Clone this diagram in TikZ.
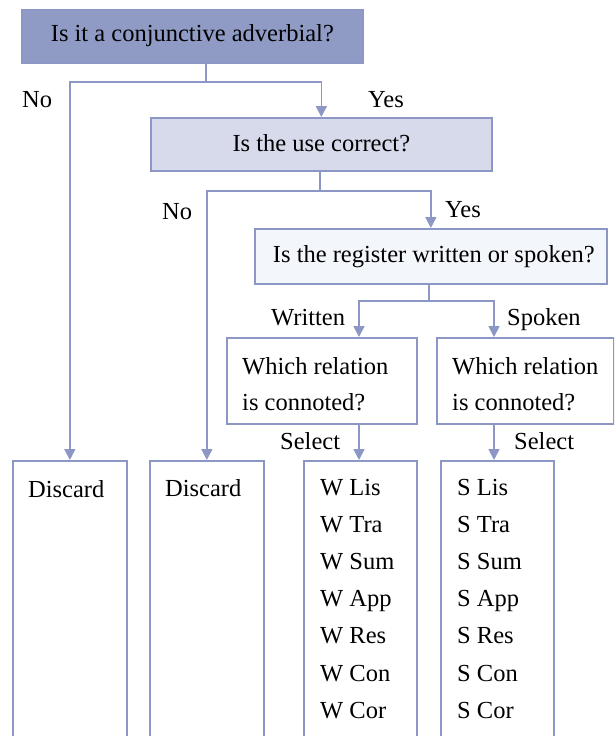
\documentclass[tikz,border=0pt]{standalone}
\usepackage{fontspec}
\setmainfont{Liberation Serif}
\usetikzlibrary{arrows.meta}
\definecolor{lc}{RGB}{140,151,197}
\definecolor{f1}{RGB}{143,155,196}
\definecolor{f2}{RGB}{214,218,235}
\definecolor{f3}{RGB}{243,246,251}
\tikzset{
  box/.style={draw=lc, line width=1.7pt, anchor=north west, inner sep=0pt},
  conn/.style={draw=lc, line width=1.7pt},
  arr/.style={conn, -{Triangle[width=11pt,length=11pt]}},
  txt/.style={font=\fontsize{24.5}{29}\selectfont, inner sep=0pt},
  lbl/.style={txt, anchor=base west},
}
\begin{document}
\begin{tikzpicture}[x=1pt,y=-1pt]
\useasboundingbox[fill=white] (0,0) rectangle (614,736);
\clip (0,0) rectangle (614,736);
% question boxes
\node[box, fill=f1, minimum width=341pt, minimum height=53pt] (q1) at (21,9) {};
\node[txt] (t1) at ([yshift=1pt]q1.center) {Is it a conjunctive adverbial?};
\node[box, fill=f2, minimum width=341pt, minimum height=53pt] (q2) at (150,117) {};
\node[txt] (t2) at ([yshift=1pt]q2.center) {Is the use correct?};
\node[box, fill=f3, minimum width=352pt, minimum height=55pt] (q3) at (254,228) {};
\node[txt] (t3) at ([xshift=3pt]q3.center) {Is the register written or spoken?};
\node[box, fill=white, minimum width=190pt, minimum height=86pt] (q4) at (226,337) {};
\node[lbl] (t4a) at (242,374) {Which relation};
\node[lbl] (t4b) at (242,410) {is connoted?};
\node[box, fill=white, minimum width=177pt, minimum height=86pt] (q5) at (436,337) {};
\node[lbl] (t5a) at (452,374) {Which relation};
\node[lbl] (t5b) at (452,410) {is connoted?};
% bottom boxes (open at the bottom)
\node[box, minimum width=114pt, minimum height=300pt] (d1) at (12,460) {};
\node[box, minimum width=114pt, minimum height=300pt] (d2) at (149,460) {};
\node[box, minimum width=113pt, minimum height=300pt] (wb) at (303,460) {};
\node[box, minimum width=113pt, minimum height=300pt] (sb) at (440,460) {};
\node[lbl] (td1) at (28,497) {Discard};
\node[lbl] (td2) at (165,496) {Discard};
\foreach \n [count=\i from 0] in {Lis,Tra,Sum,App,Res,Con,Cor}{
  \node[lbl] (w\i) at (320,{495+37.2*\i}) {W \n};
  \node[lbl] (s\i) at (457,{495+37.2*\i}) {S \n};
}
% junction coordinates
\coordinate (j1) at (206,82);
\coordinate (j2) at (320,191);
\coordinate (j3) at (429,301);
\coordinate (xw) at (359,0);
\coordinate (xs) at (494,0);
% connectors
\draw[conn] (j1 |- q1.south) -- (j1);
\draw[arr] (j1) -| (d1.north);
\draw[arr] (j1) -| (q2.north);
\draw[conn] (j2 |- q2.south) -- (j2);
\draw[arr] (j2) -| (d2.north);
\draw[arr] (j2) -| (q3.north);
\draw[conn] (j3 |- q3.south) -- (j3);
\draw[arr] (j3) -| (xw |- q4.north);
\draw[arr] (j3) -| (xs |- q5.north);
\draw[arr] (xw |- q4.south) -- (xw |- wb.north);
\draw[arr] (xs |- q5.south) -- (xs |- sb.north);
% labels
\node[lbl] (no1) at (22,107) {No};
\node[lbl] (yes1) at (368,107) {Yes};
\node[lbl] (no2) at (162,219) {No};
\node[lbl] (yes2) at (445,217) {Yes};
\node[lbl] (wr) at (271,325) {Written};
\node[lbl] (sp) at (507,325) {Spoken};
\node[lbl] (se1) at (280,449) {Select};
\node[lbl] (se2) at (514,449) {Select};
\end{tikzpicture}
\end{document}
